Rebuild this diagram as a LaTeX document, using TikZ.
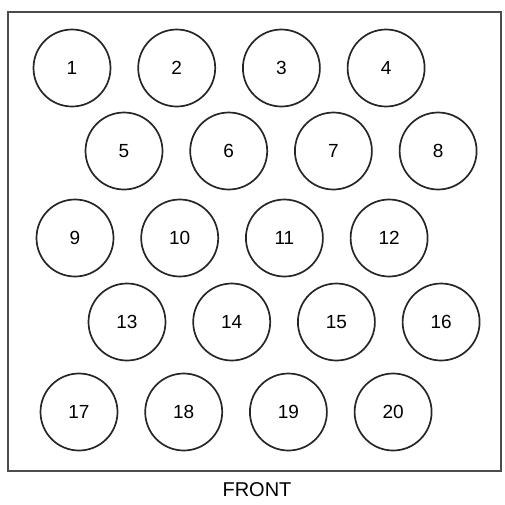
\documentclass[tikz,border=0pt]{standalone}
\usepackage{fontspec}
\setmainfont{Liberation Sans}
\usetikzlibrary{positioning}

\begin{document}
\begin{tikzpicture}[
    x=1pt, y=-1pt,
    node distance=26pt,
    hole/.style={circle, draw=black!85, line width=1.7pt, minimum size=77pt, inner sep=0pt, font=\fontsize{19}{19}\selectfont},
    panel/.style={rectangle, draw=black!70, line width=1.5pt, minimum width=493pt, minimum height=459pt, inner sep=0pt},
    caption/.style={font=\fontsize{20}{20}\selectfont}
]
\useasboundingbox (0,0) rectangle (505,504);

% Outer panel
\node[panel] (frame) at (254.5,241.5) {};

% Row 1
\node[hole] (h1) at (72,68) {1};
\node[hole, right=of h1] (h2) {2};
\node[hole, right=of h2] (h3) {3};
\node[hole, right=of h3] (h4) {4};

% Row 2
\node[hole] (h5) at (124,151) {5};
\node[hole, right=of h5] (h6) {6};
\node[hole, right=of h6] (h7) {7};
\node[hole, right=of h7] (h8) {8};

% Row 3
\node[hole] (h9) at (75,238) {9};
\node[hole, right=of h9] (h10) {10};
\node[hole, right=of h10] (h11) {11};
\node[hole, right=of h11] (h12) {12};

% Row 4
\node[hole] (h13) at (127,322) {13};
\node[hole, right=of h13] (h14) {14};
\node[hole, right=of h14] (h15) {15};
\node[hole, right=of h15] (h16) {16};

% Row 5
\node[hole] (h17) at (79,412) {17};
\node[hole, right=of h17] (h18) {18};
\node[hole, right=of h18] (h19) {19};
\node[hole, right=of h19] (h20) {20};

% Label under the panel
\node[caption, below=7pt of frame.south, xshift=2.5pt] (front) {FRONT};

\end{tikzpicture}
\end{document}
